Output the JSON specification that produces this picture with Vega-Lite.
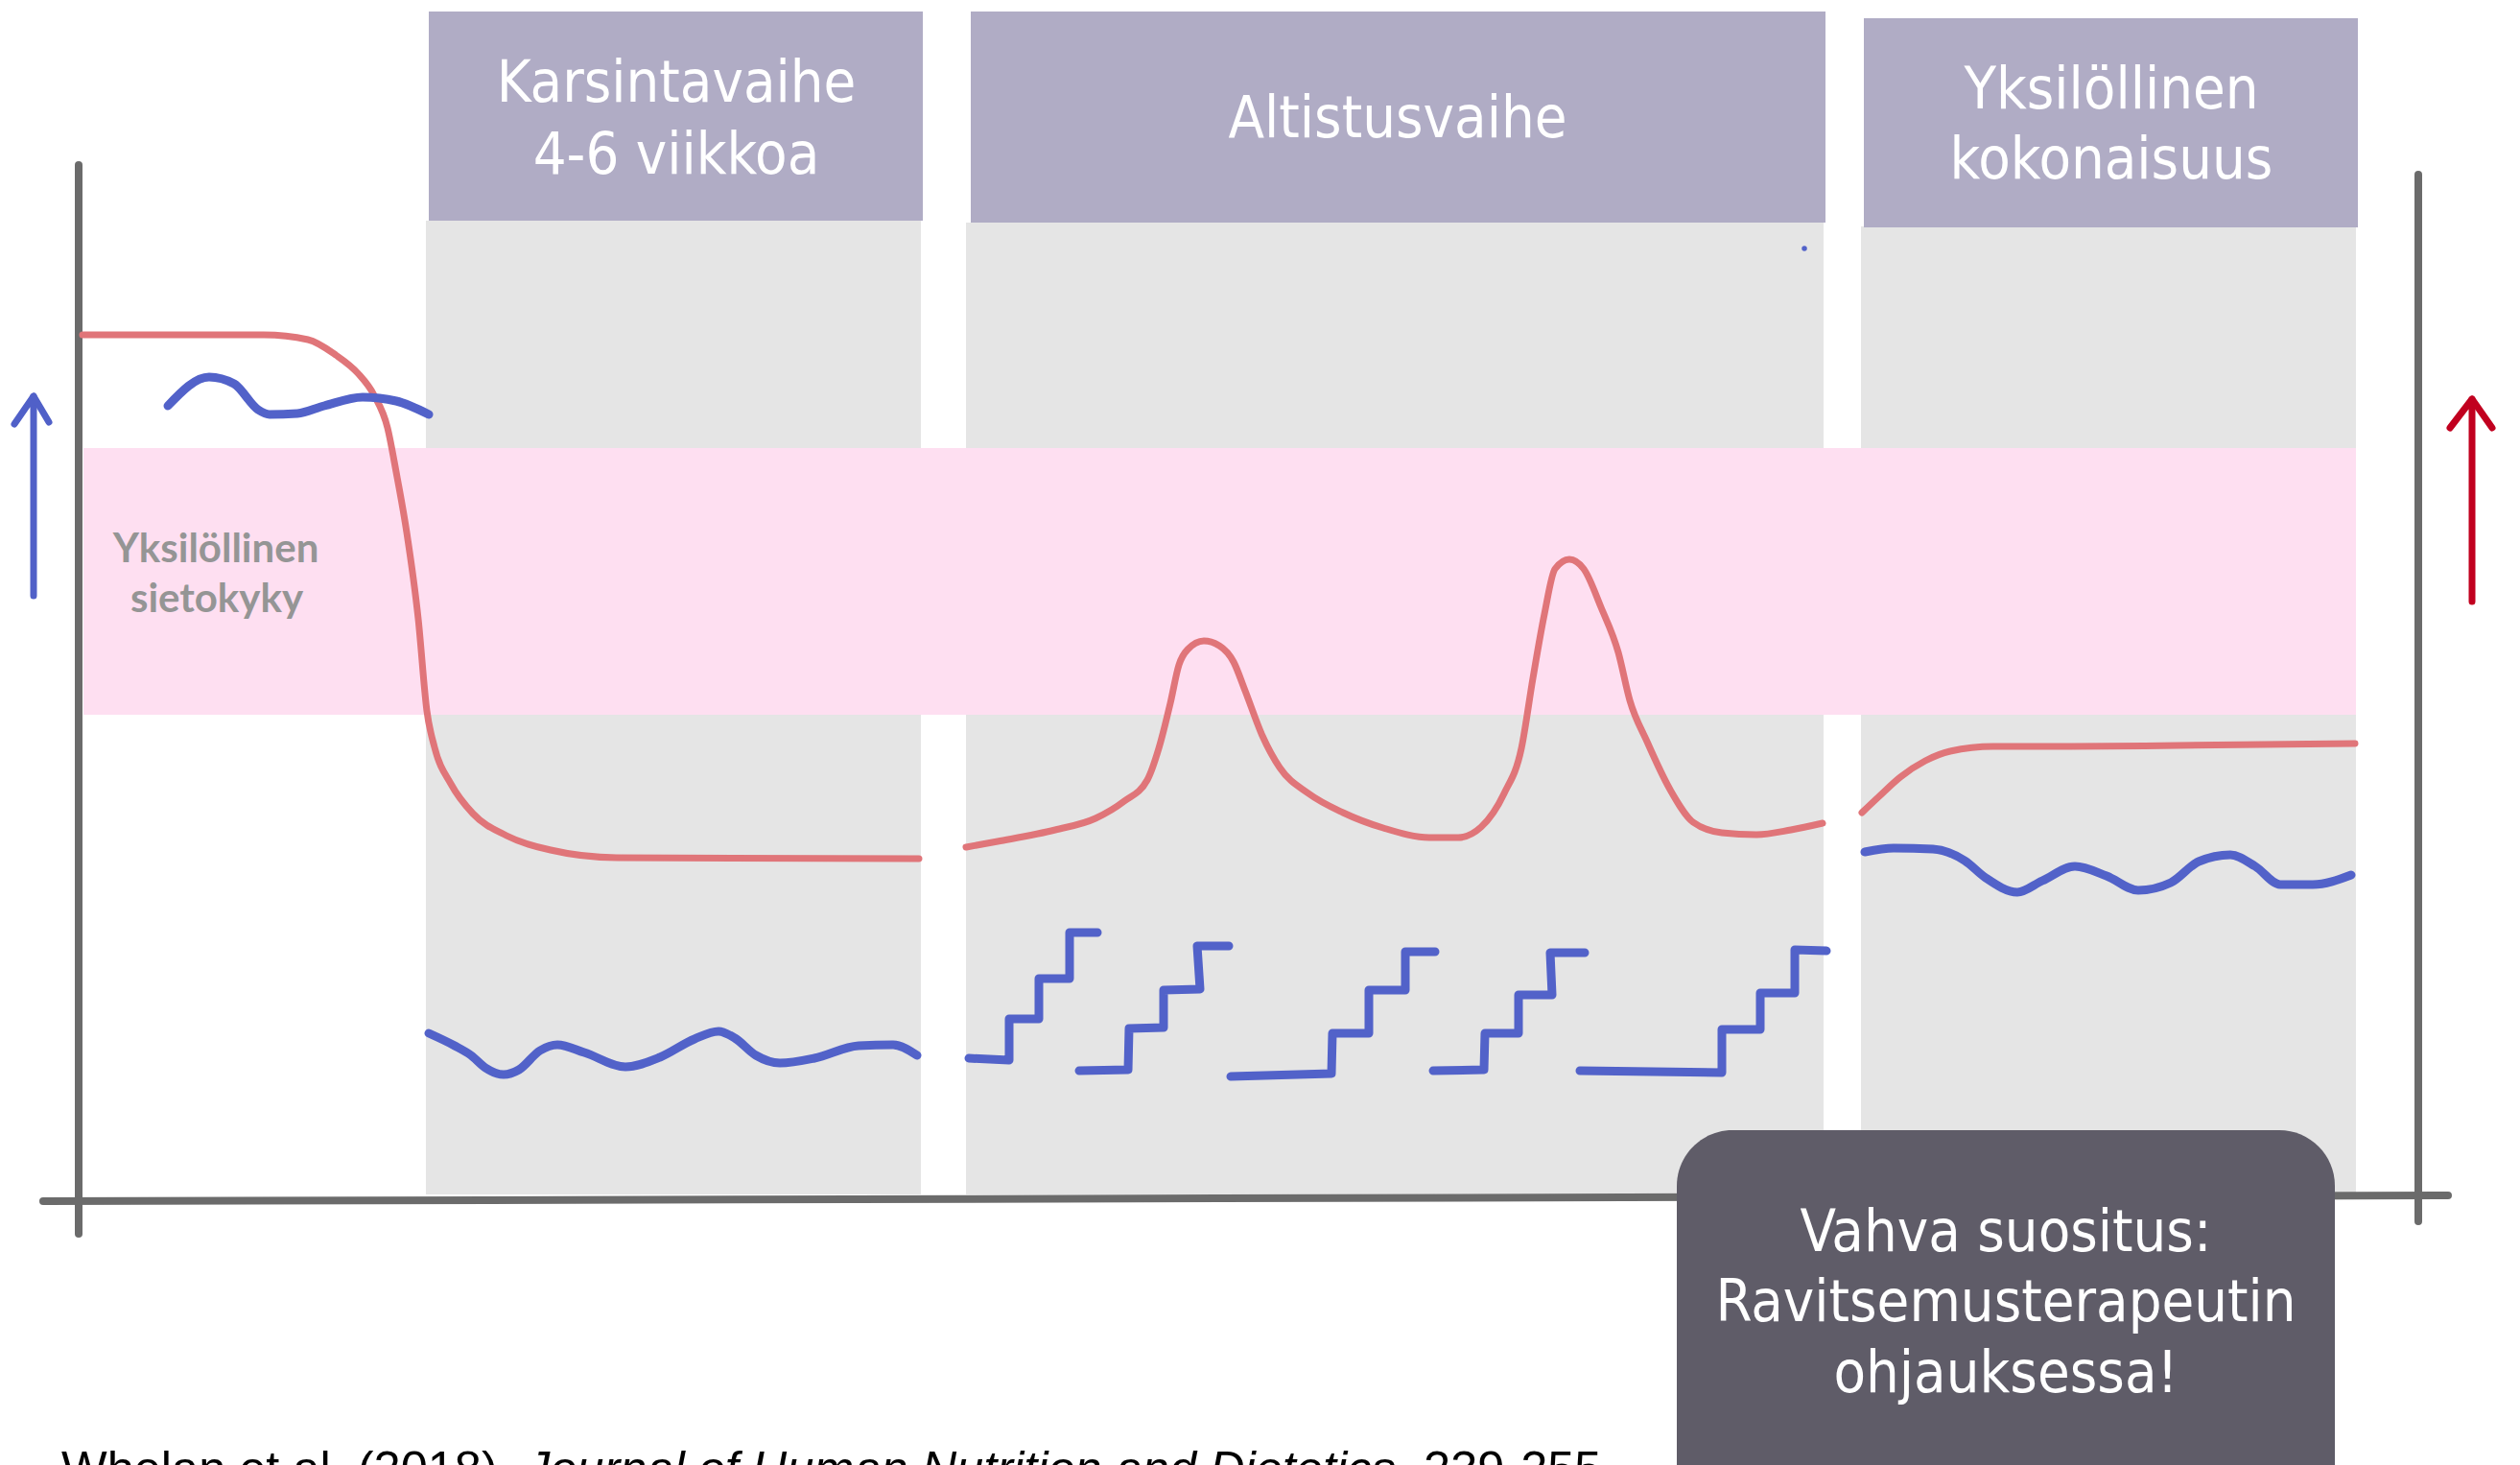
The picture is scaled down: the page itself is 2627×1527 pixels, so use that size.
{
  "$schema": "https://vega.github.io/schema/vega-lite/v6.json",
  "width": 2627,
  "height": 1527,
  "autosize": "none",
  "padding": 0,
  "background": "#ffffff",
  "config": {"view": {"stroke": null}},
  "datasets": {
    "regions": [
      {"kind": "panel", "x": 444, "x2": 960, "y": 230, "y2": 1245},
      {"kind": "panel", "x": 1007, "x2": 1901, "y": 232, "y2": 1245},
      {"kind": "panel", "x": 1940, "x2": 2456, "y": 236, "y2": 1245},
      {"kind": "header", "x": 447, "x2": 962, "y": 12, "y2": 230},
      {"kind": "header", "x": 1012, "x2": 1903, "y": 12, "y2": 232},
      {"kind": "header", "x": 1943, "x2": 2458, "y": 19, "y2": 237},
      {"kind": "band", "x": 87, "x2": 2456, "y": 467, "y2": 745},
      {"kind": "box", "x": 1748, "x2": 2434, "y": 1178, "y2": 1620}
    ],
    "lines": [
      {"kind": "axis", "seg": "a1", "ord": 1, "x": 82, "y": 172},
      {"kind": "axis", "seg": "a1", "ord": 2, "x": 82, "y": 1286},
      {"kind": "axis", "seg": "a2", "ord": 1, "x": 45, "y": 1252},
      {"kind": "axis", "seg": "a2", "ord": 2, "x": 2552, "y": 1246},
      {"kind": "axis", "seg": "a3", "ord": 1, "x": 2521, "y": 182},
      {"kind": "axis", "seg": "a3", "ord": 2, "x": 2521, "y": 1273},

      {"kind": "barrow", "seg": "b1", "ord": 1, "x": 35, "y": 621},
      {"kind": "barrow", "seg": "b1", "ord": 2, "x": 35, "y": 413},
      {"kind": "barrow", "seg": "b1", "ord": 3, "x": 15, "y": 442},
      {"kind": "barrow", "seg": "b2", "ord": 1, "x": 35, "y": 413},
      {"kind": "barrow", "seg": "b2", "ord": 2, "x": 51, "y": 440},

      {"kind": "rarrow", "seg": "r1", "ord": 1, "x": 2577, "y": 627},
      {"kind": "rarrow", "seg": "r1", "ord": 2, "x": 2577, "y": 416},
      {"kind": "rarrow", "seg": "r1", "ord": 3, "x": 2554, "y": 446},
      {"kind": "rarrow", "seg": "r2", "ord": 1, "x": 2577, "y": 416},
      {"kind": "rarrow", "seg": "r2", "ord": 2, "x": 2598, "y": 446},

      {"kind": "stair", "seg": "s1", "ord": 1, "x": 1010, "y": 1103},
      {"kind": "stair", "seg": "s1", "ord": 2, "x": 1052, "y": 1105},
      {"kind": "stair", "seg": "s1", "ord": 3, "x": 1052, "y": 1062},
      {"kind": "stair", "seg": "s1", "ord": 4, "x": 1083, "y": 1062},
      {"kind": "stair", "seg": "s1", "ord": 5, "x": 1083, "y": 1020},
      {"kind": "stair", "seg": "s1", "ord": 6, "x": 1115, "y": 1020},
      {"kind": "stair", "seg": "s1", "ord": 7, "x": 1115, "y": 972},
      {"kind": "stair", "seg": "s1", "ord": 8, "x": 1144, "y": 972},
      {"kind": "stair", "seg": "s2", "ord": 1, "x": 1125, "y": 1116},
      {"kind": "stair", "seg": "s2", "ord": 2, "x": 1176, "y": 1115},
      {"kind": "stair", "seg": "s2", "ord": 3, "x": 1177, "y": 1072},
      {"kind": "stair", "seg": "s2", "ord": 4, "x": 1213, "y": 1071},
      {"kind": "stair", "seg": "s2", "ord": 5, "x": 1213, "y": 1032},
      {"kind": "stair", "seg": "s2", "ord": 6, "x": 1251, "y": 1031},
      {"kind": "stair", "seg": "s2", "ord": 7, "x": 1248, "y": 986},
      {"kind": "stair", "seg": "s2", "ord": 8, "x": 1281, "y": 986},
      {"kind": "stair", "seg": "s3", "ord": 1, "x": 1283, "y": 1122},
      {"kind": "stair", "seg": "s3", "ord": 2, "x": 1388, "y": 1119},
      {"kind": "stair", "seg": "s3", "ord": 3, "x": 1389, "y": 1077},
      {"kind": "stair", "seg": "s3", "ord": 4, "x": 1427, "y": 1077},
      {"kind": "stair", "seg": "s3", "ord": 5, "x": 1427, "y": 1032},
      {"kind": "stair", "seg": "s3", "ord": 6, "x": 1465, "y": 1032},
      {"kind": "stair", "seg": "s3", "ord": 7, "x": 1465, "y": 992},
      {"kind": "stair", "seg": "s3", "ord": 8, "x": 1496, "y": 992},
      {"kind": "stair", "seg": "s4", "ord": 1, "x": 1494, "y": 1116},
      {"kind": "stair", "seg": "s4", "ord": 2, "x": 1547, "y": 1115},
      {"kind": "stair", "seg": "s4", "ord": 3, "x": 1548, "y": 1077},
      {"kind": "stair", "seg": "s4", "ord": 4, "x": 1583, "y": 1077},
      {"kind": "stair", "seg": "s4", "ord": 5, "x": 1583, "y": 1037},
      {"kind": "stair", "seg": "s4", "ord": 6, "x": 1618, "y": 1037},
      {"kind": "stair", "seg": "s4", "ord": 7, "x": 1616, "y": 993},
      {"kind": "stair", "seg": "s4", "ord": 8, "x": 1652, "y": 993},
      {"kind": "stair", "seg": "s5", "ord": 1, "x": 1647, "y": 1116},
      {"kind": "stair", "seg": "s5", "ord": 2, "x": 1795, "y": 1118},
      {"kind": "stair", "seg": "s5", "ord": 3, "x": 1795, "y": 1073},
      {"kind": "stair", "seg": "s5", "ord": 4, "x": 1835, "y": 1073},
      {"kind": "stair", "seg": "s5", "ord": 5, "x": 1835, "y": 1035},
      {"kind": "stair", "seg": "s5", "ord": 6, "x": 1871, "y": 1035},
      {"kind": "stair", "seg": "s5", "ord": 7, "x": 1871, "y": 990},
      {"kind": "stair", "seg": "s5", "ord": 8, "x": 1904, "y": 991},

      {"kind": "red", "seg": "c1", "ord": 1, "x": 86, "y": 349},
      {"kind": "red", "seg": "c1", "ord": 2, "x": 275, "y": 349},
      {"kind": "red", "seg": "c1", "ord": 3, "x": 321, "y": 354},
      {"kind": "red", "seg": "c1", "ord": 4, "x": 350, "y": 370},
      {"kind": "red", "seg": "c1", "ord": 5, "x": 373, "y": 389},
      {"kind": "red", "seg": "c1", "ord": 6, "x": 390, "y": 412},
      {"kind": "red", "seg": "c1", "ord": 7, "x": 404, "y": 446},
      {"kind": "red", "seg": "c1", "ord": 8, "x": 413, "y": 492},
      {"kind": "red", "seg": "c1", "ord": 9, "x": 424, "y": 555},
      {"kind": "red", "seg": "c1", "ord": 10, "x": 436, "y": 645},
      {"kind": "red", "seg": "c1", "ord": 11, "x": 445, "y": 741},
      {"kind": "red", "seg": "c1", "ord": 12, "x": 453, "y": 779},
      {"kind": "red", "seg": "c1", "ord": 13, "x": 470, "y": 817},
      {"kind": "red", "seg": "c1", "ord": 14, "x": 493, "y": 848},
      {"kind": "red", "seg": "c1", "ord": 15, "x": 528, "y": 871},
      {"kind": "red", "seg": "c1", "ord": 16, "x": 574, "y": 886},
      {"kind": "red", "seg": "c1", "ord": 17, "x": 643, "y": 894},
      {"kind": "red", "seg": "c1", "ord": 18, "x": 958, "y": 895},

      {"kind": "red", "seg": "c2", "ord": 1, "x": 1007, "y": 883},
      {"kind": "red", "seg": "c2", "ord": 2, "x": 1040, "y": 877},
      {"kind": "red", "seg": "c2", "ord": 3, "x": 1100, "y": 865},
      {"kind": "red", "seg": "c2", "ord": 4, "x": 1142, "y": 853},
      {"kind": "red", "seg": "c2", "ord": 5, "x": 1172, "y": 835},
      {"kind": "red", "seg": "c2", "ord": 6, "x": 1196, "y": 813},
      {"kind": "red", "seg": "c2", "ord": 7, "x": 1208, "y": 780},
      {"kind": "red", "seg": "c2", "ord": 8, "x": 1220, "y": 733},
      {"kind": "red", "seg": "c2", "ord": 9, "x": 1229, "y": 693},
      {"kind": "red", "seg": "c2", "ord": 10, "x": 1238, "y": 677},
      {"kind": "red", "seg": "c2", "ord": 11, "x": 1255, "y": 668},
      {"kind": "red", "seg": "c2", "ord": 12, "x": 1271, "y": 673},
      {"kind": "red", "seg": "c2", "ord": 13, "x": 1286, "y": 690},
      {"kind": "red", "seg": "c2", "ord": 14, "x": 1298, "y": 720},
      {"kind": "red", "seg": "c2", "ord": 15, "x": 1316, "y": 767},
      {"kind": "red", "seg": "c2", "ord": 16, "x": 1334, "y": 800},
      {"kind": "red", "seg": "c2", "ord": 17, "x": 1364, "y": 827},
      {"kind": "red", "seg": "c2", "ord": 18, "x": 1400, "y": 847},
      {"kind": "red", "seg": "c2", "ord": 19, "x": 1442, "y": 863},
      {"kind": "red", "seg": "c2", "ord": 20, "x": 1490, "y": 873},
      {"kind": "red", "seg": "c2", "ord": 21, "x": 1520, "y": 873},
      {"kind": "red", "seg": "c2", "ord": 22, "x": 1544, "y": 862},
      {"kind": "red", "seg": "c2", "ord": 23, "x": 1568, "y": 827},
      {"kind": "red", "seg": "c2", "ord": 24, "x": 1586, "y": 780},
      {"kind": "red", "seg": "c2", "ord": 25, "x": 1598, "y": 707},
      {"kind": "red", "seg": "c2", "ord": 26, "x": 1610, "y": 640},
      {"kind": "red", "seg": "c2", "ord": 27, "x": 1621, "y": 593},
      {"kind": "red", "seg": "c2", "ord": 28, "x": 1636, "y": 583},
      {"kind": "red", "seg": "c2", "ord": 29, "x": 1651, "y": 593},
      {"kind": "red", "seg": "c2", "ord": 30, "x": 1669, "y": 633},
      {"kind": "red", "seg": "c2", "ord": 31, "x": 1687, "y": 680},
      {"kind": "red", "seg": "c2", "ord": 32, "x": 1699, "y": 730},
      {"kind": "red", "seg": "c2", "ord": 33, "x": 1717, "y": 773},
      {"kind": "red", "seg": "c2", "ord": 34, "x": 1741, "y": 823},
      {"kind": "red", "seg": "c2", "ord": 35, "x": 1765, "y": 857},
      {"kind": "red", "seg": "c2", "ord": 36, "x": 1795, "y": 868},
      {"kind": "red", "seg": "c2", "ord": 37, "x": 1831, "y": 870},
      {"kind": "red", "seg": "c2", "ord": 38, "x": 1867, "y": 865},
      {"kind": "red", "seg": "c2", "ord": 39, "x": 1900, "y": 858},

      {"kind": "red", "seg": "c3", "ord": 1, "x": 1941, "y": 847},
      {"kind": "red", "seg": "c3", "ord": 2, "x": 1959, "y": 830},
      {"kind": "red", "seg": "c3", "ord": 3, "x": 1981, "y": 810},
      {"kind": "red", "seg": "c3", "ord": 4, "x": 2007, "y": 793},
      {"kind": "red", "seg": "c3", "ord": 5, "x": 2033, "y": 783},
      {"kind": "red", "seg": "c3", "ord": 6, "x": 2078, "y": 778},
      {"kind": "red", "seg": "c3", "ord": 7, "x": 2159, "y": 778},
      {"kind": "red", "seg": "c3", "ord": 8, "x": 2270, "y": 777},
      {"kind": "red", "seg": "c3", "ord": 9, "x": 2455, "y": 775},

      {"kind": "blue", "seg": "w1", "ord": 1, "x": 175, "y": 423},
      {"kind": "blue", "seg": "w1", "ord": 2, "x": 218, "y": 393},
      {"kind": "blue", "seg": "w1", "ord": 3, "x": 244, "y": 400},
      {"kind": "blue", "seg": "w1", "ord": 4, "x": 269, "y": 427},
      {"kind": "blue", "seg": "w1", "ord": 5, "x": 281, "y": 432},
      {"kind": "blue", "seg": "w1", "ord": 6, "x": 310, "y": 431},
      {"kind": "blue", "seg": "w1", "ord": 7, "x": 338, "y": 423},
      {"kind": "blue", "seg": "w1", "ord": 8, "x": 378, "y": 414},
      {"kind": "blue", "seg": "w1", "ord": 9, "x": 413, "y": 418},
      {"kind": "blue", "seg": "w1", "ord": 10, "x": 447, "y": 432},

      {"kind": "blue", "seg": "w2", "ord": 1, "x": 447, "y": 1077},
      {"kind": "blue", "seg": "w2", "ord": 2, "x": 474, "y": 1090},
      {"kind": "blue", "seg": "w2", "ord": 3, "x": 491, "y": 1100},
      {"kind": "blue", "seg": "w2", "ord": 4, "x": 506, "y": 1113},
      {"kind": "blue", "seg": "w2", "ord": 5, "x": 525, "y": 1120},
      {"kind": "blue", "seg": "w2", "ord": 6, "x": 541, "y": 1115},
      {"kind": "blue", "seg": "w2", "ord": 7, "x": 563, "y": 1095},
      {"kind": "blue", "seg": "w2", "ord": 8, "x": 581, "y": 1089},
      {"kind": "blue", "seg": "w2", "ord": 9, "x": 609, "y": 1097},
      {"kind": "blue", "seg": "w2", "ord": 10, "x": 652, "y": 1112},
      {"kind": "blue", "seg": "w2", "ord": 11, "x": 688, "y": 1102},
      {"kind": "blue", "seg": "w2", "ord": 12, "x": 724, "y": 1083},
      {"kind": "blue", "seg": "w2", "ord": 13, "x": 749, "y": 1075},
      {"kind": "blue", "seg": "w2", "ord": 14, "x": 766, "y": 1082},
      {"kind": "blue", "seg": "w2", "ord": 15, "x": 788, "y": 1100},
      {"kind": "blue", "seg": "w2", "ord": 16, "x": 813, "y": 1108},
      {"kind": "blue", "seg": "w2", "ord": 17, "x": 849, "y": 1103},
      {"kind": "blue", "seg": "w2", "ord": 18, "x": 895, "y": 1090},
      {"kind": "blue", "seg": "w2", "ord": 19, "x": 931, "y": 1089},
      {"kind": "blue", "seg": "w2", "ord": 20, "x": 956, "y": 1100},

      {"kind": "blue", "seg": "w3", "ord": 1, "x": 1944, "y": 888},
      {"kind": "blue", "seg": "w3", "ord": 2, "x": 1974, "y": 884},
      {"kind": "blue", "seg": "w3", "ord": 3, "x": 2015, "y": 885},
      {"kind": "blue", "seg": "w3", "ord": 4, "x": 2048, "y": 897},
      {"kind": "blue", "seg": "w3", "ord": 5, "x": 2070, "y": 915},
      {"kind": "blue", "seg": "w3", "ord": 6, "x": 2103, "y": 930},
      {"kind": "blue", "seg": "w3", "ord": 7, "x": 2129, "y": 918},
      {"kind": "blue", "seg": "w3", "ord": 8, "x": 2163, "y": 903},
      {"kind": "blue", "seg": "w3", "ord": 9, "x": 2196, "y": 913},
      {"kind": "blue", "seg": "w3", "ord": 10, "x": 2229, "y": 928},
      {"kind": "blue", "seg": "w3", "ord": 11, "x": 2263, "y": 920},
      {"kind": "blue", "seg": "w3", "ord": 12, "x": 2292, "y": 898},
      {"kind": "blue", "seg": "w3", "ord": 13, "x": 2325, "y": 891},
      {"kind": "blue", "seg": "w3", "ord": 14, "x": 2351, "y": 903},
      {"kind": "blue", "seg": "w3", "ord": 15, "x": 2377, "y": 922},
      {"kind": "blue", "seg": "w3", "ord": 16, "x": 2411, "y": 922},
      {"kind": "blue", "seg": "w3", "ord": 17, "x": 2451, "y": 912}
    ],
    "dots": [
      {"x": 1881, "y": 259}
    ],
    "labels": [
      {"kind": "header", "text": "Karsintavaihe", "x": 705, "y": 106},
      {"kind": "header", "text": "4-6 viikkoa", "x": 705, "y": 181},
      {"kind": "header", "text": "Altistusvaihe", "x": 1457, "y": 143},
      {"kind": "header", "text": "Yksilöllinen", "x": 2201, "y": 113},
      {"kind": "header", "text": "kokonaisuus", "x": 2201, "y": 186},
      {"kind": "boxtext", "text": "Vahva suositus:", "x": 2091, "y": 1304},
      {"kind": "boxtext", "text": "Ravitsemusterapeutin", "x": 2091, "y": 1377},
      {"kind": "boxtext", "text": "ohjauksessa!", "x": 2091, "y": 1451},
      {"kind": "band", "text": "Yksilöllinen", "x": 225, "y": 586},
      {"kind": "band", "text": "sietokyky", "x": 226, "y": 638},
      {"kind": "cite_author", "text": "Whelan et al. (2018). ", "x": 64, "y": 1548},
      {"kind": "cite_journal", "text": "Journal of Human Nutrition and Dietetics", "x": 548, "y": 1548},
      {"kind": "cite_pages", "text": ", 239-255", "x": 1456, "y": 1548}
    ]
  },
  "encoding": {
    "x": {"field": "x", "type": "quantitative", "scale": {"domain": [0, 2627], "nice": false, "zero": false}, "axis": null},
    "y": {"field": "y", "type": "quantitative", "scale": {"domain": [0, 1527], "reverse": true, "nice": false, "zero": false}, "axis": null}
  },
  "layer": [
    {
      "data": {"name": "regions"},
      "transform": [{"filter": "datum.kind === 'panel'"}],
      "mark": {"type": "rect", "fill": "#e5e5e5"},
      "encoding": {"x2": {"field": "x2"}, "y2": {"field": "y2"}}
    },
    {
      "data": {"name": "regions"},
      "transform": [{"filter": "datum.kind === 'header'"}],
      "mark": {"type": "rect", "fill": "#b0acc5"},
      "encoding": {"x2": {"field": "x2"}, "y2": {"field": "y2"}}
    },
    {
      "data": {"name": "regions"},
      "transform": [{"filter": "datum.kind === 'band'"}],
      "mark": {"type": "rect", "fill": "#fedff1"},
      "encoding": {"x2": {"field": "x2"}, "y2": {"field": "y2"}}
    },
    {
      "data": {"name": "lines"},
      "transform": [{"filter": "datum.kind === 'axis'"}],
      "mark": {"type": "line", "stroke": "#6b6b6b", "strokeWidth": 8, "strokeCap": "round"},
      "encoding": {"detail": {"field": "seg"}, "order": {"field": "ord"}}
    },
    {
      "data": {"name": "lines"},
      "transform": [{"filter": "datum.kind === 'barrow'"}],
      "mark": {"type": "line", "stroke": "#5060c8", "strokeWidth": 7, "strokeCap": "round", "strokeJoin": "round"},
      "encoding": {"detail": {"field": "seg"}, "order": {"field": "ord"}}
    },
    {
      "data": {"name": "lines"},
      "transform": [{"filter": "datum.kind === 'rarrow'"}],
      "mark": {"type": "line", "stroke": "#c1001f", "strokeWidth": 7, "strokeCap": "round", "strokeJoin": "round"},
      "encoding": {"detail": {"field": "seg"}, "order": {"field": "ord"}}
    },
    {
      "data": {"name": "lines"},
      "transform": [{"filter": "datum.kind === 'red'"}],
      "mark": {"type": "line", "interpolate": "monotone", "stroke": "#e07579", "strokeWidth": 7, "strokeCap": "round", "strokeJoin": "round"},
      "encoding": {"detail": {"field": "seg"}, "order": {"field": "ord"}}
    },
    {
      "data": {"name": "lines"},
      "transform": [{"filter": "datum.kind === 'blue'"}],
      "mark": {"type": "line", "interpolate": "monotone", "stroke": "#5262c9", "strokeWidth": 9, "strokeCap": "round", "strokeJoin": "round"},
      "encoding": {"detail": {"field": "seg"}, "order": {"field": "ord"}}
    },
    {
      "data": {"name": "lines"},
      "transform": [{"filter": "datum.kind === 'stair'"}],
      "mark": {"type": "line", "stroke": "#5262c9", "strokeWidth": 9, "strokeCap": "round", "strokeJoin": "round"},
      "encoding": {"detail": {"field": "seg"}, "order": {"field": "ord"}}
    },
    {
      "data": {"name": "dots"},
      "mark": {"type": "circle", "fill": "#5262c9", "opacity": 1, "size": 30}
    },
    {
      "data": {"name": "regions"},
      "transform": [{"filter": "datum.kind === 'box'"}],
      "mark": {"type": "rect", "fill": "#5f5c68", "cornerRadius": 58},
      "encoding": {"x2": {"field": "x2"}, "y2": {"field": "y2"}}
    },
    {
      "data": {"name": "labels"},
      "transform": [{"filter": "datum.kind === 'header' || datum.kind === 'boxtext'"}],
      "mark": {"type": "text", "font": "DejaVu Sans Condensed, sans-serif", "fontSize": 61, "fill": "#ffffff", "align": "center", "baseline": "alphabetic"},
      "encoding": {"text": {"field": "text"}}
    },
    {
      "data": {"name": "labels"},
      "transform": [{"filter": "datum.kind === 'band'"}],
      "mark": {"type": "text", "font": "Lato, sans-serif", "fontWeight": "bold", "fontSize": 42, "fill": "#959595", "align": "center", "baseline": "alphabetic"},
      "encoding": {"text": {"field": "text"}}
    },
    {
      "data": {"name": "labels"},
      "transform": [{"filter": "datum.kind === 'cite_author' || datum.kind === 'cite_pages'"}],
      "mark": {"type": "text", "font": "Liberation Sans, Arial, sans-serif", "fontSize": 50.5, "fill": "#000000", "align": "left", "baseline": "alphabetic"},
      "encoding": {"text": {"field": "text"}}
    },
    {
      "data": {"name": "labels"},
      "transform": [{"filter": "datum.kind === 'cite_journal'"}],
      "mark": {"type": "text", "font": "Liberation Sans, Arial, sans-serif", "fontStyle": "italic", "fontSize": 50.5, "fill": "#000000", "align": "left", "baseline": "alphabetic"},
      "encoding": {"text": {"field": "text"}}
    }
  ]
}
